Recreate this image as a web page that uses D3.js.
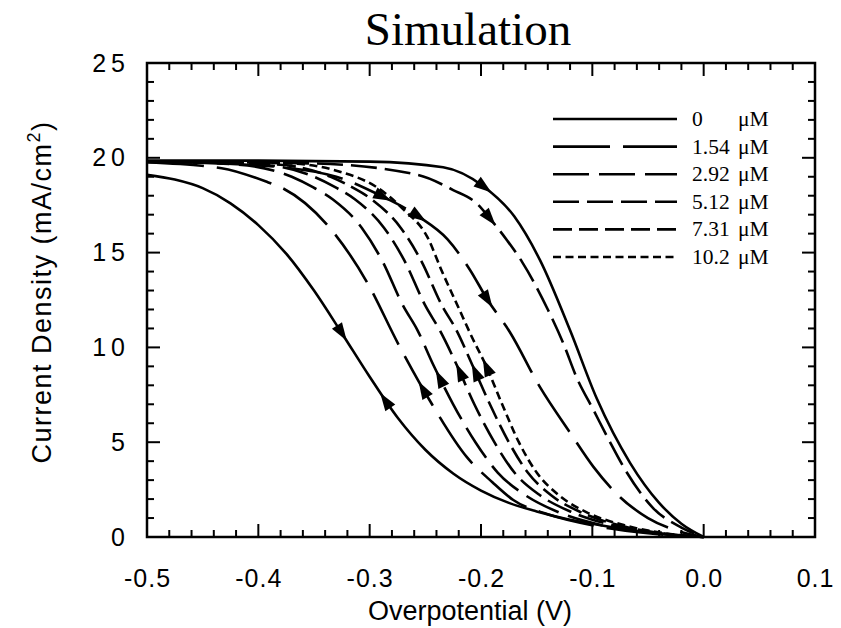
<!DOCTYPE html>
<html>
<head>
<meta charset="utf-8">
<script src="https://cdn.jsdelivr.net/npm/d3@7"></script>
<style>
  body { margin: 0; background: #fff; }
  svg { display: block; }
</style>
</head>
<body>
<script>
// ---- data (overpotential V, current density mA/cm2) ----
var xTicks = [-0.5, -0.4, -0.3, -0.2, -0.1, 0.0, 0.1];
var yTicks = [0, 5, 10, 15, 20, 25];

var concLabels = ["0", "1.54", "2.92", "5.12", "7.31", "10.2"];

// cathodic sweeps (arrows up)
var fwd0   = [[-0.5,19.1],[-0.475,18.85],[-0.45,18.4],[-0.425,17.6],[-0.4,16.45],[-0.375,14.95],[-0.35,13.0],[-0.325,10.75],[-0.3,8.45],[-0.275,6.3],[-0.25,4.6],[-0.225,3.35],[-0.2,2.45],[-0.175,1.8],[-0.15,1.35],[-0.125,0.98],[-0.1,0.7],[-0.075,0.45],[-0.05,0.25],[-0.025,0.1],[0,0]];
var fwd154 = [[-0.5,19.75],[-0.433,19.45],[-0.391,18.7],[-0.38,18.45],[-0.338,16.45],[-0.302,13.4],[-0.2745,10.2],[-0.244,7.0],[-0.2125,4.2],[-0.19,2.9],[-0.171,1.95],[-0.14,1.2],[-0.1,0.62],[-0.05,0.2],[0,0]];
var fwd292 = [[-0.5,19.8],[-0.42,19.65],[-0.37,19.0],[-0.351,18.45],[-0.333,17.8],[-0.307,16.3],[-0.289,14.6],[-0.27,12.2],[-0.257,10.9],[-0.243,9.1],[-0.225,7.0],[-0.205,5.0],[-0.185,3.4],[-0.16,2.2],[-0.13,1.3],[-0.09,0.6],[-0.045,0.2],[0,0]];
var fwd512 = [[-0.5,19.8],[-0.4,19.65],[-0.35,19.0],[-0.331,18.45],[-0.313,17.8],[-0.287,16.3],[-0.269,14.6],[-0.25,12.2],[-0.237,10.9],[-0.222,9.1],[-0.206,7.0],[-0.188,5.0],[-0.17,3.4],[-0.147,2.2],[-0.118,1.3],[-0.08,0.6],[-0.04,0.2],[0,0]];
var fwd731 = [[-0.5,19.8],[-0.385,19.65],[-0.335,19.0],[-0.316,18.45],[-0.298,17.8],[-0.272,16.3],[-0.254,14.6],[-0.235,12.2],[-0.222,10.9],[-0.208,9.1],[-0.192,7.0],[-0.175,5.0],[-0.158,3.4],[-0.137,2.2],[-0.11,1.3],[-0.075,0.6],[-0.038,0.2],[0,0]];
var fwd102 = [[-0.5,19.8],[-0.37,19.7],[-0.326,19.25],[-0.295,18.5],[-0.27,17.3],[-0.248,15.8],[-0.235,14.0],[-0.221,12.2],[-0.207,10.4],[-0.196,9.1],[-0.181,7.0],[-0.166,5.0],[-0.15,3.4],[-0.13,2.2],[-0.105,1.3],[-0.07,0.6],[-0.035,0.2],[0,0]];

// return sweeps (arrows down)
var revA = [[-0.5,19.85],[-0.4,19.85],[-0.3,19.8],[-0.234,19.5],[-0.198,18.5],[-0.17,16.9],[-0.147,14.6],[-0.12,10.9],[-0.096,7.3],[-0.066,3.9],[-0.04,1.8],[-0.02,0.7],[0,0]];
var revB = [[-0.5,19.8],[-0.35,19.7],[-0.257,19.1],[-0.225,18.3],[-0.204,17.6],[-0.192,16.8],[-0.176,15.6],[-0.163,14.5],[-0.14,12.0],[-0.126,10.2],[-0.114,8.4],[-0.099,6.7],[-0.085,5.1],[-0.069,3.4],[-0.045,1.5],[-0.02,0.5],[0,0]];
var revC = [[-0.5,19.8],[-0.4,19.6],[-0.33,19.0],[-0.29,18.0],[-0.256,16.9],[-0.23,15.7],[-0.21,14.1],[-0.194,12.5],[-0.174,10.8],[-0.147,7.9],[-0.12,5.5],[-0.099,3.7],[-0.075,2.1],[-0.05,1.0],[-0.025,0.35],[0,0]];

// line styles per concentration
var dashes = [null, "57,13", "36,10", "26,8", "19,7", "8,4.5"];

var curves = [
  {pts: fwd0,   style: 0},
  {pts: fwd154, style: 1},
  {pts: fwd292, style: 2},
  {pts: fwd512, style: 3},
  {pts: fwd731, style: 4},
  {pts: fwd102, style: 5},
  {pts: revA,   style: 0},
  {pts: revB,   style: 3},
  {pts: revC,   style: 1}
];

// arrow heads: curve index, potential, direction (+1 toward 0 V)
var arrows = [
  [6, -0.197, 1], [7, -0.192, 1], [8, -0.194, 1], [8, -0.256, 1], [8, -0.288, 1],
  [0, -0.325, 1], [0, -0.286, -1],
  [1, -0.252, -1], [2, -0.237, -1], [3, -0.219, -1], [4, -0.205, -1], [5, -0.195, -1]
];

var w = 841, h = 628;
var m = {left: 147, top: 63, right: 815, bottom: 537};

var svg = d3.select('body').append('svg')
            .attr('width', w)
            .attr('height', h);

var x = d3.scaleLinear().domain([-0.5, 0.1]).range([m.left, m.right]);
var y = d3.scaleLinear().domain([0, 25]).range([m.bottom, m.top]);

var fmt = function(d) { return d3.format('.1f')(d).replace('\u2212', '-'); };

// minor/major ticks, drawn inward on all four sides
var xMinor = d3.range(-0.5, 0.1001, 0.02);
var yMinor = d3.range(0, 25.001, 1);
var ticks = svg.append('g').attr('stroke', '#000').attr('stroke-width', 2);

function isMajor(v, step) { return Math.abs(v / step - Math.round(v / step)) < 1e-6; }

xMinor.forEach(function(v) {
  var len = isMajor(v, 0.1) ? 13 : 7;
  ticks.append('line').attr('x1', x(v)).attr('x2', x(v)).attr('y1', m.bottom).attr('y2', m.bottom - len);
  ticks.append('line').attr('x1', x(v)).attr('x2', x(v)).attr('y1', m.top).attr('y2', m.top + len);
});
yMinor.forEach(function(v) {
  var len = isMajor(v, 5) ? 13 : 7;
  ticks.append('line').attr('y1', y(v)).attr('y2', y(v)).attr('x1', m.left).attr('x2', m.left + len);
  ticks.append('line').attr('y1', y(v)).attr('y2', y(v)).attr('x1', m.right).attr('x2', m.right - len);
});

// tick labels through d3 axes
var xAxis = svg.append('g')
   .attr('transform', 'translate(0,' + m.bottom + ')')
   .call(d3.axisBottom(x).tickValues(xTicks).tickSize(0).tickPadding(32).tickFormat(fmt));
var yAxis = svg.append('g')
   .attr('transform', 'translate(' + m.left + ',0)')
   .call(d3.axisLeft(y).tickValues(yTicks).tickSize(0).tickPadding(17).tickFormat(d3.format('d')));
[xAxis, yAxis].forEach(function(g) {
  g.select('.domain').remove();
  g.selectAll('text')
   .attr('font-family', 'Liberation Sans, Arial, sans-serif')
   .attr('font-size', 25)
   .attr('fill', '#000');
});
xAxis.selectAll('text').attr('letter-spacing', 1);
yAxis.selectAll('text').attr('letter-spacing', 5);

// frame
svg.append('rect')
   .attr('x', m.left).attr('y', m.top)
   .attr('width', m.right - m.left).attr('height', m.bottom - m.top)
   .attr('fill', 'none').attr('stroke', '#000').attr('stroke-width', 2.5);

// curves
var line = d3.line()
             .x(function(d) { return x(d[0]); })
             .y(function(d) { return y(d[1]); })
             .curve(d3.curveMonotoneX);

var paths = svg.append('g').selectAll('path')
   .data(curves)
   .enter()
   .append('path')
   .attr('d', function(d) { return line(d.pts); })
   .attr('fill', 'none')
   .attr('stroke', '#000')
   .attr('stroke-width', 2.6)
   .attr('stroke-dasharray', function(d) { return dashes[d.style]; });

// arrow heads placed on the drawn paths
var nodes = paths.nodes();
function pointAtX(node, px) {
  var lo = 0, hi = node.getTotalLength();
  for (var i = 0; i < 40; i++) {
    var mid = (lo + hi) / 2;
    if (node.getPointAtLength(mid).x < px) lo = mid; else hi = mid;
  }
  return lo;
}
arrows.forEach(function(a) {
  var node = nodes[a[0]];
  var l = pointAtX(node, x(a[1]));
  var p0 = node.getPointAtLength(Math.max(0, l - 4));
  var p1 = node.getPointAtLength(l + 4);
  var ang = Math.atan2(p1.y - p0.y, p1.x - p0.x) * 180 / Math.PI;
  if (a[2] < 0) ang += 180;
  var c = node.getPointAtLength(l);
  svg.append('path')
     .attr('d', 'M9,0 L-9,-6 L-9,6 Z')
     .attr('fill', '#000')
     .attr('transform', 'translate(' + c.x + ',' + c.y + ') rotate(' + ang + ')');
});

// legend
var leg = svg.append('g');
concLabels.forEach(function(lab, i) {
  var ly = 119 + i * 27.6;
  leg.append('line')
     .attr('x1', 553).attr('x2', 677).attr('y1', ly).attr('y2', ly)
     .attr('stroke', '#000').attr('stroke-width', 2.6)
     .attr('stroke-dasharray', dashes[i]);
  leg.append('text')
     .attr('x', 692).attr('y', ly + 7)
     .attr('font-family', 'Liberation Serif, Times New Roman, serif')
     .attr('font-size', 21.5)
     .text(lab);
  leg.append('text')
     .attr('x', 738).attr('y', ly + 7)
     .attr('font-family', 'Liberation Serif, Times New Roman, serif')
     .attr('font-size', 21.5)
     .text('\u03bcM');
});

// titles
svg.append('text')
   .attr('x', 468).attr('y', 45)
   .attr('text-anchor', 'middle')
   .attr('font-family', 'Liberation Serif, Times New Roman, serif')
   .attr('font-size', 47)
   .text('Simulation');

svg.append('text')
   .attr('x', 470).attr('y', 620)
   .attr('text-anchor', 'middle')
   .attr('font-family', 'Liberation Sans, Arial, sans-serif')
   .attr('font-size', 27)
   .text('Overpotential (V)');

var yt = svg.append('text')
   .attr('transform', 'translate(51,292) rotate(-90)')
   .attr('text-anchor', 'middle')
   .attr('font-family', 'Liberation Sans, Arial, sans-serif')
   .attr('font-size', 27)
   .attr('letter-spacing', 1.5);
yt.append('tspan').text('Current Density (mA/cm');
yt.append('tspan').attr('dy', -11).attr('font-size', 18).text('2');
yt.append('tspan').attr('dy', 11).text(')');
</script>
</body>
</html>
